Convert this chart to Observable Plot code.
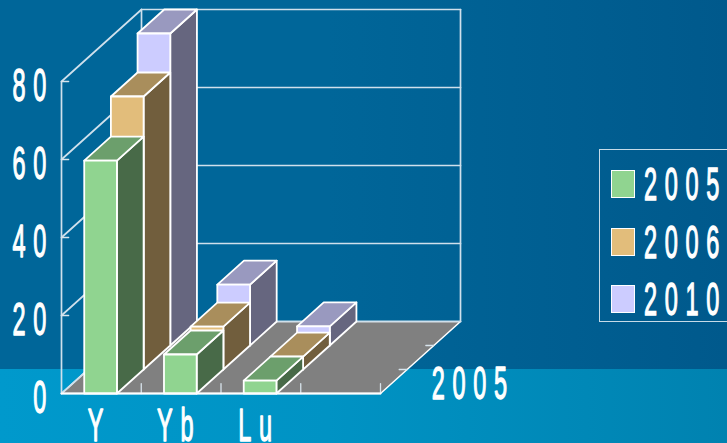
<!DOCTYPE html>
<html>
<head>
<meta charset="utf-8">
<script src="https://cdn.jsdelivr.net/npm/d3@7"></script>
<script src="https://cdn.jsdelivr.net/npm/@observablehq/plot@0.6"></script>
<style>
html,body{margin:0;padding:0;width:727px;height:443px;overflow:hidden;}
body{position:relative;background:
  linear-gradient(90deg,#006699 0%,#006699 45%,#00598c 100%) 0 0/100% 369px no-repeat,
  linear-gradient(90deg,#0099cc 0%,#0093c4 45%,#0082b0 100%);
  font-family:"Liberation Sans",Arial,sans-serif;}
#chart{position:absolute;left:0;top:0;}
.legend{position:absolute;left:599px;top:149px;width:200px;height:173px;border:1px solid #c6dbe8;box-sizing:border-box;}
.swatch{position:absolute;left:11px;width:22px;height:26px;border:1px solid #fff;}
.ltext{position:absolute;left:44px;color:#fff;font-size:47px;line-height:44px;letter-spacing:15.3px;-webkit-text-stroke:1.4px #fff;transform:scaleX(.5);transform-origin:0 0;white-space:nowrap;}
</style>
</head>
<body>
<div id="chart"></div>
<script>
const categories = ["Y", "Yb", "Lu", ""];
const years = ["2005", "2006", "2010"];
const values2005 = [59.7, 10, 3.3];
const values2006 = [70, 11, 3.3];
const values2010 = [80, 15.6, 4.9];
const valueTicks = [0, 20, 40, 60, 80];
const depthLabel = "2005";
const frontColors = ["#90d490", "#e2bd7b", "#ccccff"];
const topColors = ["#6c9f6c", "#a98e5c", "#9999bf"];
const sideColors = ["#486a48", "#715e3d", "#66667f"];

const series = [values2005, values2006, values2010];
const rowDx = 0.3344, rowDy = 6.154, rows = 3;
const barInset = 0.285, barWidth = 0.41;
const wallStroke = "#cfe0ec";

const pt = (c, d, v) => ({x: c + d * rowDx, y: v + d * rowDy});

const faces = [];
let faceId = 0;
const addFace = (pts, fill) => { faceId++; [...pts, pts[0]].forEach(p => faces.push({...p, id: faceId, fill})); };
for (let r = series.length - 1; r >= 0; r--) {
  series[r].forEach((v, i) => {
    const a = i + barInset, b = a + barWidth;
    addFace([pt(b, r, 0), pt(b, r + 1, 0), pt(b, r + 1, v), pt(b, r, v)], sideColors[r]);
    addFace([pt(a, r, v), pt(b, r, v), pt(b, r + 1, v), pt(a, r + 1, v)], topColors[r]);
    addFace([pt(a, r, 0), pt(b, r, 0), pt(b, r, v), pt(a, r, v)], frontColors[r]);
  });
}

const nCat = categories.length, maxTick = valueTicks[valueTicks.length - 1];
const floorPoly = [pt(0, 0, 0), pt(nCat, 0, 0), pt(nCat, rows, 0), pt(0, rows, 0), pt(0, 0, 0)];
const wallLines = [];
let wallId = 0;
const addLine = (a, b) => { wallId++; wallLines.push({...a, w: wallId}, {...b, w: wallId}); };
valueTicks.forEach(v => {
  addLine(pt(0, 0, v), pt(0, rows, v));
  addLine(pt(0, rows, v), pt(nCat, rows, v));
});
addLine(pt(0, 0, 0), pt(0, 0, maxTick));
addLine(pt(0, rows, 0), pt(0, rows, maxTick));
addLine(pt(nCat, rows, 0), pt(nCat, rows, maxTick));

const tickLines = [];
let tickId = 0;
const addTick = (a, b) => { tickId++; tickLines.push({...a, t: tickId}, {...b, t: tickId}); };
valueTicks.slice(1).forEach(v => addTick(pt(0, 0, v), pt(0.09, 0, v)));
[1, 2, 3, 4].forEach(c => addTick(pt(c, 0, 0), pt(c, 0, 2.5)));
[1, 2].forEach(d => addTick(pt(nCat - 0.1, d, 0), pt(nCat, d, 0)));

const textStyle = {fill: "#fff", stroke: "#fff", strokeWidth: 1.4, fontSize: 47, fontFamily: "Liberation Sans", className: "squeeze"};

const plot = Plot.plot({
  width: 727, height: 443, margin: 0,
  style: {background: "transparent", overflow: "hidden"},
  x: {type: "linear", domain: [0, 4], range: [61, 380], axis: null},
  y: {type: "linear", domain: [0, 80], range: [393, 81], axis: null},
  color: {type: "identity"},
  marks: [
    Plot.line(floorPoly, {x: "x", y: "y", fill: "#808080", stroke: "#fff", strokeWidth: 1.5}),
    Plot.line(wallLines, {x: "x", y: "y", z: "w", stroke: wallStroke, strokeWidth: 1.7}),
    Plot.line(tickLines, {x: "x", y: "y", z: "t", stroke: "#d8e4ec", strokeWidth: 1.3}),
    Plot.line(faces, {x: "x", y: "y", z: "id", fill: "fill", stroke: "#fff", strokeWidth: 1.8, strokeLinejoin: "round"}),
    Plot.line([pt(0, 0, 0), pt(nCat, 0, 0)], {x: "x", y: "y", stroke: "#fff", strokeWidth: 2}),
    Plot.text(valueTicks, {x: () => 0, y: d => d, text: d => String(d), textAnchor: "end", dx: -7.5, dy: 4, ...textStyle}),
    Plot.text(categories, {x: (d, i) => i + 0.5, y: () => 0, text: d => d, textAnchor: "middle", dx: -2, dy: 32, ...textStyle}),
    Plot.text([depthLabel], {x: () => nCat + 0.5 * rowDx, y: () => 0.5 * rowDy, text: d => d, textAnchor: "start", dx: 38, dy: 2, ...textStyle})
  ]
});
d3.select(plot).selectAll("g.squeeze text").each(function() {
  const el = d3.select(this);
  el.attr("transform", (el.attr("transform") || "") + " scale(0.5,1)").style("letter-spacing", "15.3px");
});
document.getElementById("chart").appendChild(plot);

const legend = d3.select("body").append("div").attr("class", "legend");
years.forEach((yr, i) => {
  legend.append("div").attr("class", "swatch")
    .style("top", (20 + i * 57.5) + "px").style("background", frontColors[i]);
  legend.append("div").attr("class", "ltext")
    .style("top", (12 + i * 57.5) + "px").text(yr);
});
</script>
</body>
</html>
